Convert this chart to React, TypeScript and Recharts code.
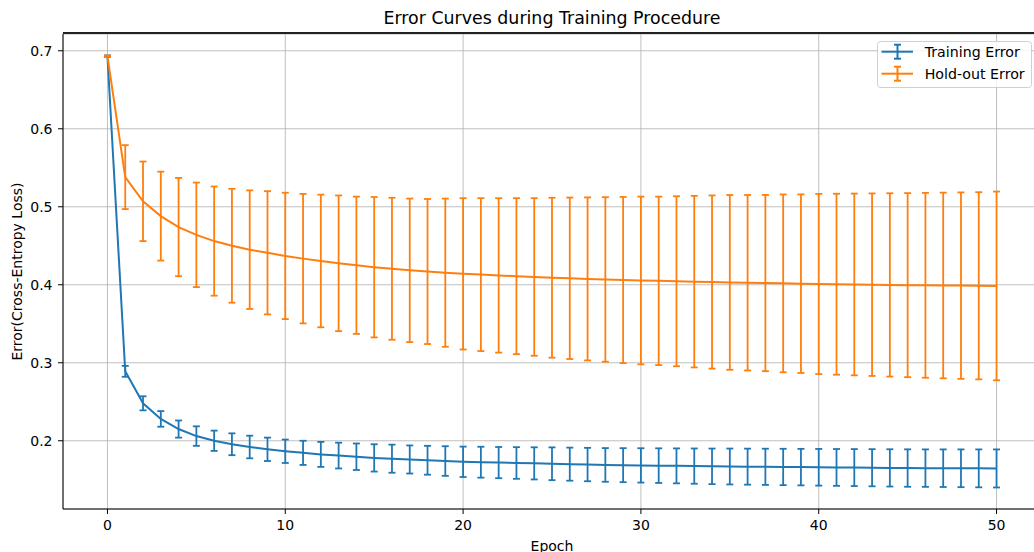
import { CartesianGrid, ErrorBar, Legend, Line, LineChart, XAxis, YAxis } from "recharts";

const BLUE = "#1f77b4";
const ORANGE = "#ff7f0e";
const FONT = "DejaVu Sans, sans-serif";

const epochs = Array.from({ length: 51 }, (_, i) => i);
const xTicks = [0, 10, 20, 30, 40, 50];
const yTicks = [0.2, 0.3, 0.4, 0.5, 0.6, 0.7];

const trainMean = [
  0.693, 0.289, 0.248, 0.228, 0.215, 0.206, 0.2, 0.1955, 0.192, 0.189, 0.1865, 0.1845, 0.1825, 0.181, 0.1795,
  0.178, 0.177, 0.176, 0.175, 0.174, 0.173, 0.1725, 0.172, 0.1715, 0.171, 0.1705, 0.17, 0.1695, 0.169, 0.1687,
  0.1684, 0.1681, 0.1678, 0.1675, 0.1672, 0.167, 0.1668, 0.1666, 0.1664, 0.1662, 0.166, 0.1658, 0.1656, 0.1654,
  0.1652, 0.165, 0.1649, 0.1648, 0.1647, 0.1646, 0.1645,
];
const trainStd = [
  0.001, 0.007, 0.009, 0.01, 0.011, 0.0125, 0.013, 0.014, 0.0145, 0.015, 0.015, 0.0155, 0.016, 0.0165, 0.017,
  0.0175, 0.018, 0.018, 0.0185, 0.019, 0.0195, 0.0198, 0.02, 0.0203, 0.0206, 0.021, 0.0212, 0.0214, 0.0216, 0.0218,
  0.022, 0.0222, 0.0224, 0.0226, 0.0228, 0.023, 0.0231, 0.0232, 0.0233, 0.0234, 0.0235, 0.0236, 0.0237, 0.0238,
  0.0239, 0.024, 0.024, 0.0241, 0.0242, 0.0243, 0.0244,
];
const holdMean = [
  0.693, 0.538, 0.507, 0.488, 0.474, 0.464, 0.456, 0.45, 0.445, 0.441, 0.437, 0.4335, 0.4305, 0.4275, 0.425,
  0.4225, 0.4205, 0.4185, 0.417, 0.4155, 0.414, 0.413, 0.412, 0.411, 0.41, 0.409, 0.4083, 0.4075, 0.4068, 0.4061,
  0.4055, 0.405, 0.4045, 0.404, 0.4035, 0.403, 0.4026, 0.4022, 0.4018, 0.4014, 0.401, 0.4007, 0.4004, 0.4001,
  0.3998, 0.3995, 0.3993, 0.3991, 0.3989, 0.3987, 0.3985,
];
const holdStd = [
  0.001, 0.041, 0.051, 0.057, 0.063, 0.067, 0.07, 0.073, 0.076, 0.079, 0.081, 0.083, 0.085, 0.087, 0.088, 0.09,
  0.091, 0.092, 0.093, 0.095, 0.097, 0.098, 0.099, 0.1, 0.101, 0.1025, 0.1035, 0.1045, 0.1055, 0.1065, 0.1075,
  0.108, 0.109, 0.11, 0.111, 0.112, 0.1125, 0.113, 0.114, 0.1145, 0.1155, 0.116, 0.1165, 0.117, 0.1175, 0.118,
  0.1185, 0.119, 0.1195, 0.12, 0.121,
];

const data = epochs.map((e, i) => ({
  epoch: e,
  train: trainMean[i],
  trainErr: trainStd[i],
  hold: holdMean[i],
  holdErr: holdStd[i],
}));

const legendItems = [
  { label: "Training Error", color: BLUE },
  { label: "Hold-out Error", color: ORANGE },
];

function LegendBox() {
  return (
    <svg width={156} height={48} style={{ display: "block" }}>
      <rect x={0.5} y={0.5} width={154} height={46} rx={3} fill="rgba(255,255,255,0.8)" stroke="#d0d0d0" />
      {legendItems.map((it, i) => {
        const cy = 10.7 + i * 22;
        return (
          <g key={it.label}>
            <line x1={4.5} x2={36} y1={cy} y2={cy} stroke={it.color} strokeWidth={2} />
            <line x1={20.5} x2={20.5} y1={cy - 7} y2={cy + 7} stroke={it.color} strokeWidth={2} />
            <line x1={17} x2={24} y1={cy - 7} y2={cy - 7} stroke={it.color} strokeWidth={2} />
            <line x1={17} x2={24} y1={cy + 7} y2={cy + 7} stroke={it.color} strokeWidth={2} />
            <text x={47.7} y={cy + 5.5} fontSize={14.2} fontFamily={FONT} fill="#000">
              {it.label}
            </text>
          </g>
        );
      })}
    </svg>
  );
}

const YLabel = ({ viewBox }: any) => {
  const y = viewBox.y + viewBox.height / 2;
  return (
    <text x={22} y={y} transform={`rotate(-90, 22, ${y})`} textAnchor="middle" fontSize={14} fontFamily={FONT} fill="#000">
      Error(Cross-Entropy Loss)
    </text>
  );
};

const XLabel = ({ viewBox }: any) => (
  <text x={viewBox.x + viewBox.width / 2} y={550.5} textAnchor="middle" fontSize={14} fontFamily={FONT} fill="#000">
    Epoch
  </text>
);

export default function App() {
  const tick = { fontSize: 14, fontFamily: FONT, fill: "#000" };
  return (
    <div style={{ position: "fixed", left: 0, top: 0, width: 1034, height: 552, overflow: "hidden", background: "#fff" }}>
      <div
        style={{
          position: "absolute",
          left: 63,
          width: 978,
          top: 6,
          textAlign: "center",
          fontFamily: FONT,
          fontSize: 17.4,
          lineHeight: "24px",
          color: "#000",
        }}
      >
        Error Curves during Training Procedure
      </div>
      <LineChart width={1050} height={552} data={data} margin={{ top: 34, right: 9, bottom: 0, left: 0 }}>
        <CartesianGrid stroke="#b0b0b0" strokeWidth={0.8} />
        <XAxis
          dataKey="epoch"
          type="number"
          domain={[-2.5, 52.5]}
          ticks={xTicks}
          allowDataOverflow
          height={43}
          tickSize={5}
          tickMargin={6.5}
          tick={tick}
          stroke="#000"
          tickLine={{ stroke: "#000" }}
          axisLine={{ stroke: "#000", strokeWidth: 1 }}
          label={<XLabel />}
        />
        <YAxis
          type="number"
          domain={[0.1125, 0.7215]}
          ticks={yTicks}
          allowDataOverflow
          width={63}
          tickSize={5}
          tickMargin={5.5}
          tick={tick}
          tickFormatter={(v: number) => v.toFixed(1)}
          tickLine={{ stroke: "#000" }}
          axisLine={{ stroke: "#000", strokeWidth: 1 }}
          label={<YLabel />}
        />
        <Legend
          layout="vertical"
          align="center"
          verticalAlign="middle"
          content={() => <LegendBox />}
          wrapperStyle={{ top: 41, left: 877, width: 156, height: 48 }}
        />
        <Line
          type="linear"
          dataKey="train"
          name="Training Error"
          stroke={BLUE}
          strokeWidth={2}
          dot={false}
          activeDot={false}
          isAnimationActive={false}
        >
          <ErrorBar dataKey="trainErr" width={3.5} stroke={BLUE} strokeWidth={1.8} isAnimationActive={false} />
        </Line>
        <Line
          type="linear"
          dataKey="hold"
          name="Hold-out Error"
          stroke={ORANGE}
          strokeWidth={2}
          dot={false}
          activeDot={false}
          isAnimationActive={false}
        >
          <ErrorBar dataKey="holdErr" width={3.5} stroke={ORANGE} strokeWidth={1.8} isAnimationActive={false} />
        </Line>
      </LineChart>
      {/* top spine of the axes frame, laid over the chart */}
      <div style={{ position: "absolute", left: 63, top: 32, width: 980, height: 2, background: "#222", zIndex: 5 }} />
    </div>
  );
}
